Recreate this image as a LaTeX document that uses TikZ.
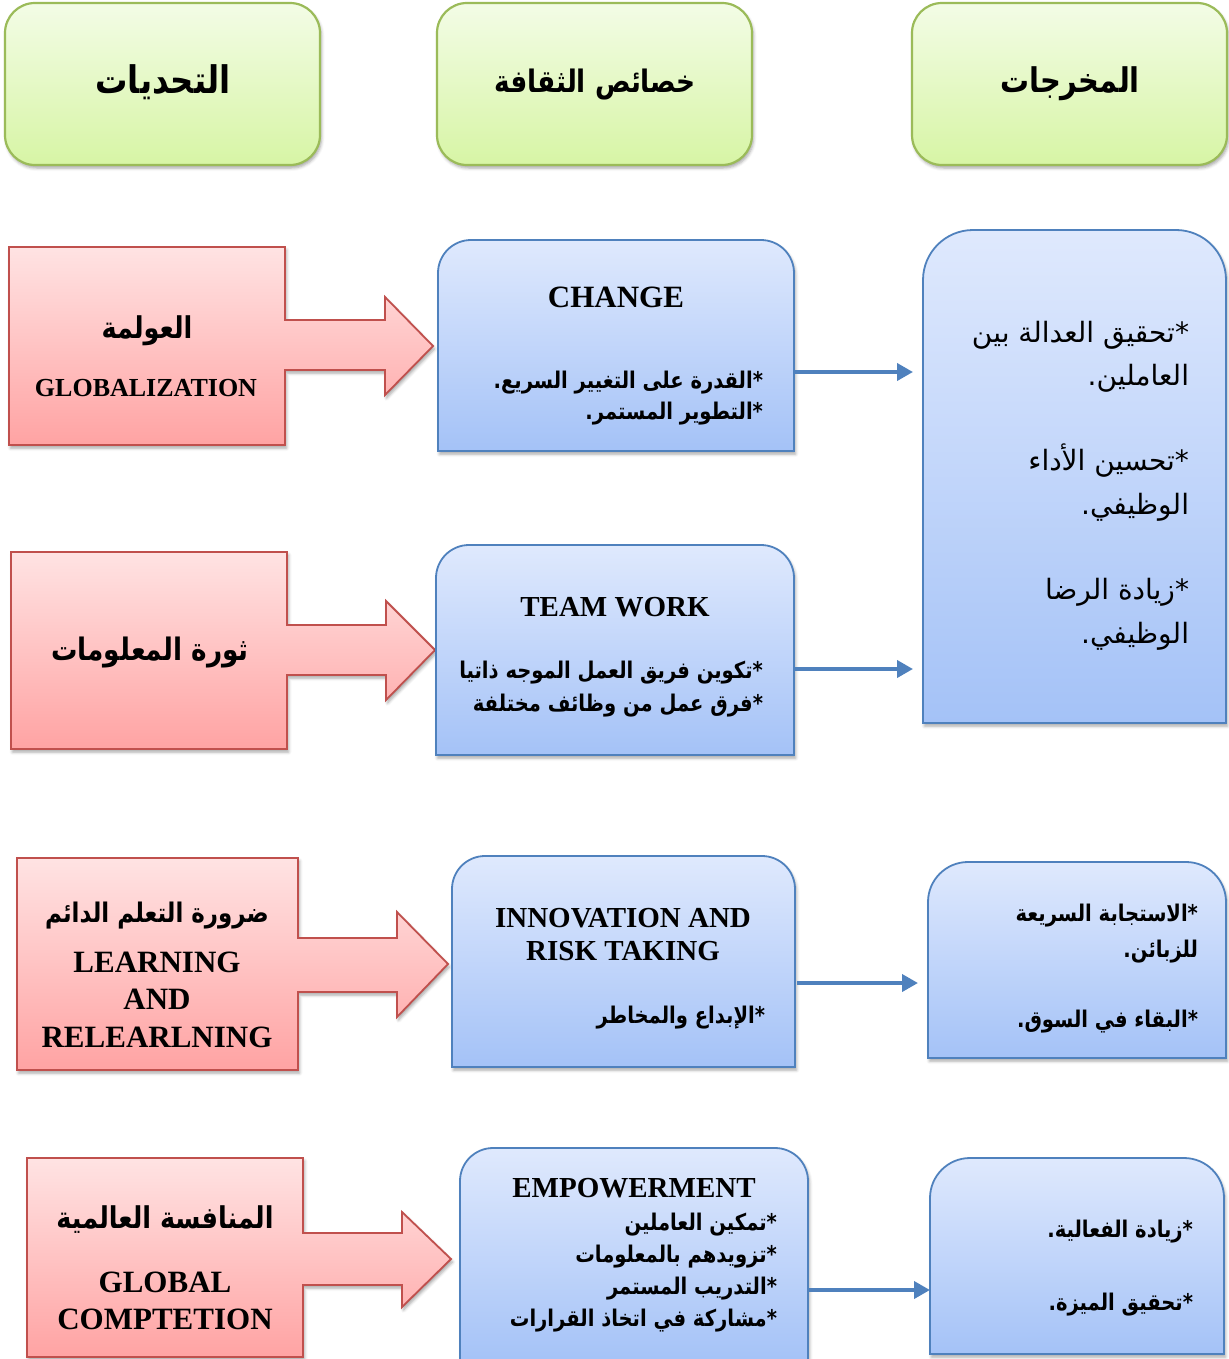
\documentclass[tikz,border=0pt]{standalone}
\usepackage{fontspec}
\setmainfont{Liberation Serif}
\newfontfamily\arb[Script=Arabic]{DejaVu Sans}
\newfontfamily\arbn[Script=Arabic,FakeStretch=0.85]{DejaVu Sans}
\TeXXeTstate=1
\usetikzlibrary{arrows.meta,shadows.blur}

\definecolor{grnTop}{HTML}{F3FCE6}
\definecolor{grnBot}{HTML}{D7F5A5}
\definecolor{grnLine}{HTML}{9BBB59}
\definecolor{redTop}{HTML}{FFE3E3}
\definecolor{redBot}{HTML}{FFA3A3}
\definecolor{redLine}{HTML}{C0504D}
\definecolor{bluTop}{HTML}{DFE9FD}
\definecolor{bluBot}{HTML}{A4C2F7}
\definecolor{bluLine}{HTML}{4F81BD}

\newcommand\fs[1]{\fontsize{#1}{#1}\selectfont}
% box with rounded top corners only, drawn round an empty frame node
\newcommand\topround[3]{%
  \path[#3] (#1.south west) -- ([yshift=-#2]#1.north west)
    arc[start angle=180,end angle=90,radius=#2]
    -- ([xshift=-#2]#1.north east)
    arc[start angle=90,end angle=0,radius=#2]
    -- (#1.south east) -- cycle;}

\tikzset{
  shd/.style={blur shadow={shadow xshift=1.5pt,shadow yshift=-3pt,
      shadow blur radius=3pt,shadow opacity=35}},
  frame/.style={rectangle,inner sep=0pt,outer sep=0pt},
  hdr/.style={frame,rounded corners=30pt,draw=grnLine,line width=2.2pt,
      top color=grnTop,bottom color=grnBot,shd,
      minimum width=315pt,minimum height=162pt},
  callout/.style={draw=redLine,line width=1.8pt,top color=redTop,
      bottom color=redBot,shd},
  bluebox/.style={draw=bluLine,line width=1.8pt,top color=bluTop,
      bottom color=bluBot,shd},
  conn/.style={draw=bluLine,line width=3.8pt,
      -{Triangle[length=16pt,width=17pt]}},
  txt/.style={inner sep=0pt,outer sep=0pt,text=black},
  hdtxt/.style={txt,anchor=base,font=\arbn\bfseries\fs{#1}},
  redar/.style={txt,anchor=base,font=\arbn\bfseries\fs{#1}},
  en/.style={txt,anchor=base,font=\bfseries\fs{29}},
  enl/.style={txt,anchor=base,font=\bfseries\fs{31}},
  midar/.style={txt,anchor=base east,font=\arbn\bfseries\fs{23}},
  rgtar/.style={txt,anchor=base east,font=\arb\fs{28}},
  rgtarb/.style={txt,anchor=base east,font=\arbn\bfseries\fs{23}},
}

\begin{document}
\begin{tikzpicture}[x=1pt,y=-1pt]
\useasboundingbox (0,0) rectangle (1228,1359);

% column headers
\node[hdr] (h1) at (162.5,84) {};
\node[hdr] (h2) at (594.5,84) {};
\node[hdr] (h3) at (1069.5,84) {};
\node[hdtxt=38] (h1t) at (163,94) {\beginR التحديات\endR};
\node[hdtxt=31] (h2t) at (595,93) {\beginR خصائص الثقافة\endR};
\node[hdtxt=34] (h3t) at (1070,93) {\beginR المخرجات\endR};

% challenges: rectangles with arrow callouts
\node[frame,minimum width=276pt,minimum height=198pt] (c1) at (147,346) {};
\node[frame,minimum width=276pt,minimum height=197pt] (c2) at (149,650.5) {};
\node[frame,minimum width=281pt,minimum height=212pt] (c3) at (157.5,964) {};
\node[frame,minimum width=276pt,minimum height=199pt] (c4) at (165,1257.5) {};

\path[callout] (c1.north west) -- (c1.north east) -- (c1.east |- 0,320)
  -- (385,320) -- (385,297) -- (433,346) -- (385,395) -- (385,370)
  -- (c1.east |- 0,370) -- (c1.south east) -- (c1.south west) -- cycle;
\path[callout] (c2.north west) -- (c2.north east) -- (c2.east |- 0,625)
  -- (386,625) -- (386,601) -- (435,650) -- (386,700) -- (386,675)
  -- (c2.east |- 0,675) -- (c2.south east) -- (c2.south west) -- cycle;
\path[callout] (c3.north west) -- (c3.north east) -- (c3.east |- 0,938)
  -- (397,938) -- (397,912) -- (448,964) -- (397,1017) -- (397,992)
  -- (c3.east |- 0,992) -- (c3.south east) -- (c3.south west) -- cycle;
\path[callout] (c4.north west) -- (c4.north east) -- (c4.east |- 0,1233)
  -- (402,1233) -- (402,1212) -- (451,1259) -- (402,1307) -- (402,1285)
  -- (c4.east |- 0,1285) -- (c4.south east) -- (c4.south west) -- cycle;

\node[redar=30] (c1a) at (147,338) {\beginR العولمة\endR};
\node[en,font=\bfseries\fs{26}] (c1b) at (146,396) {GLOBALIZATION};
\node[redar=31] (c2a) at (150,660) {\beginR ثورة المعلومات\endR};
\node[redar=27] (c3a) at (157,922) {\beginR ضرورة التعلم الدائم\endR};
\node[enl] (c3b) at (157,972) {LEARNING};
\node[enl] (c3c) at (157,1009) {AND};
\node[enl] (c3d) at (157,1047) {RELEARLNING};
\node[redar=30] (c4a) at (165,1228) {\beginR المنافسة العالمية\endR};
\node[enl] (c4b) at (165,1292) {GLOBAL};
\node[enl] (c4c) at (165,1329) {COMPTETION};

% culture characteristics
\node[frame,minimum width=356pt,minimum height=211pt] (m1) at (616,345.5) {};
\node[frame,minimum width=358pt,minimum height=210pt] (m2) at (615,650) {};
\node[frame,minimum width=343pt,minimum height=211pt] (m3) at (623.5,961.5) {};
\node[frame,minimum width=348pt,minimum height=216pt] (m4) at (634,1256) {};
\topround{m1}{33pt}{bluebox}
\topround{m2}{33pt}{bluebox}
\topround{m3}{33pt}{bluebox}
\topround{m4}{33pt}{bluebox}

\node[enl] (m1t) at (616,307) {CHANGE};
\node[midar] (m1a) at (763,388) {\beginR *القدرة على التغيير السريع.\endR};
\node[midar] (m1b) at (763,419) {\beginR *التطوير المستمر.\endR};

\node[en] (m2t) at (615,616) {TEAM WORK};
\node[midar] (m2a) at (763,678) {\beginR *تكوين فريق العمل الموجه ذاتيا\endR};
\node[midar] (m2b) at (763,711) {\beginR *فرق عمل من وظائف مختلفة\endR};

\node[en] (m3t) at (623,927) {INNOVATION AND};
\node[en] (m3u) at (623,960) {RISK TAKING};
\node[midar] (m3a) at (765,1023) {\beginR *الإبداع والمخاطر\endR};

\node[en] (m4t) at (634,1197) {EMPOWERMENT};
\node[midar] (m4a) at (777,1230) {\beginR *تمكين العاملين\endR};
\node[midar] (m4b) at (777,1262) {\beginR *تزويدهم بالمعلومات\endR};
\node[midar] (m4c) at (777,1294) {\beginR *التدريب المستمر\endR};
\node[midar] (m4d) at (777,1326) {\beginR *مشاركة في اتخاذ القرارات\endR};

% outputs
\node[frame,minimum width=303pt,minimum height=493pt] (r1) at (1074.5,476.5) {};
\node[frame,minimum width=298pt,minimum height=196pt] (r2) at (1077,960) {};
\node[frame,minimum width=294pt,minimum height=196pt] (r3) at (1077,1256) {};
\topround{r1}{50pt}{bluebox}
\topround{r2}{40pt}{bluebox}
\topround{r3}{40pt}{bluebox}

\node[rgtar] (r1a) at (1189,342) {\beginR *تحقيق العدالة بين\endR};
\node[rgtar] (r1b) at (1189,385) {\beginR العاملين.\endR};
\node[rgtar] (r1c) at (1189,470) {\beginR *تحسين الأداء\endR};
\node[rgtar] (r1d) at (1189,514) {\beginR الوظيفي.\endR};
\node[rgtar] (r1e) at (1189,599) {\beginR *زيادة الرضا\endR};
\node[rgtar] (r1f) at (1189,643) {\beginR الوظيفي.\endR};

\node[rgtarb] (r2a) at (1198,921) {\beginR *الاستجابة السريعة\endR};
\node[rgtarb] (r2b) at (1198,957) {\beginR للزبائن.\endR};
\node[rgtarb] (r2c) at (1198,1027) {\beginR *البقاء في السوق.\endR};

\node[rgtarb] (r3a) at (1193,1237) {\beginR *زيادة الفعالية.\endR};
\node[rgtarb] (r3b) at (1193,1310) {\beginR *تحقيق الميزة.\endR};

% connectors
\draw[conn,shorten >=10pt] (m1.east |- 0,372) -- (r1.west |- 0,372);
\draw[conn,shorten >=10pt] (m2.east |- 0,669) -- (r1.west |- 0,669);
\draw[conn,shorten <=2pt,shorten >=10pt] (m3.east |- 0,983) -- (r2.west |- 0,983);
\draw[conn] (m4.east |- 0,1290) -- (r3.west |- 0,1290);
\end{tikzpicture}
\end{document}
